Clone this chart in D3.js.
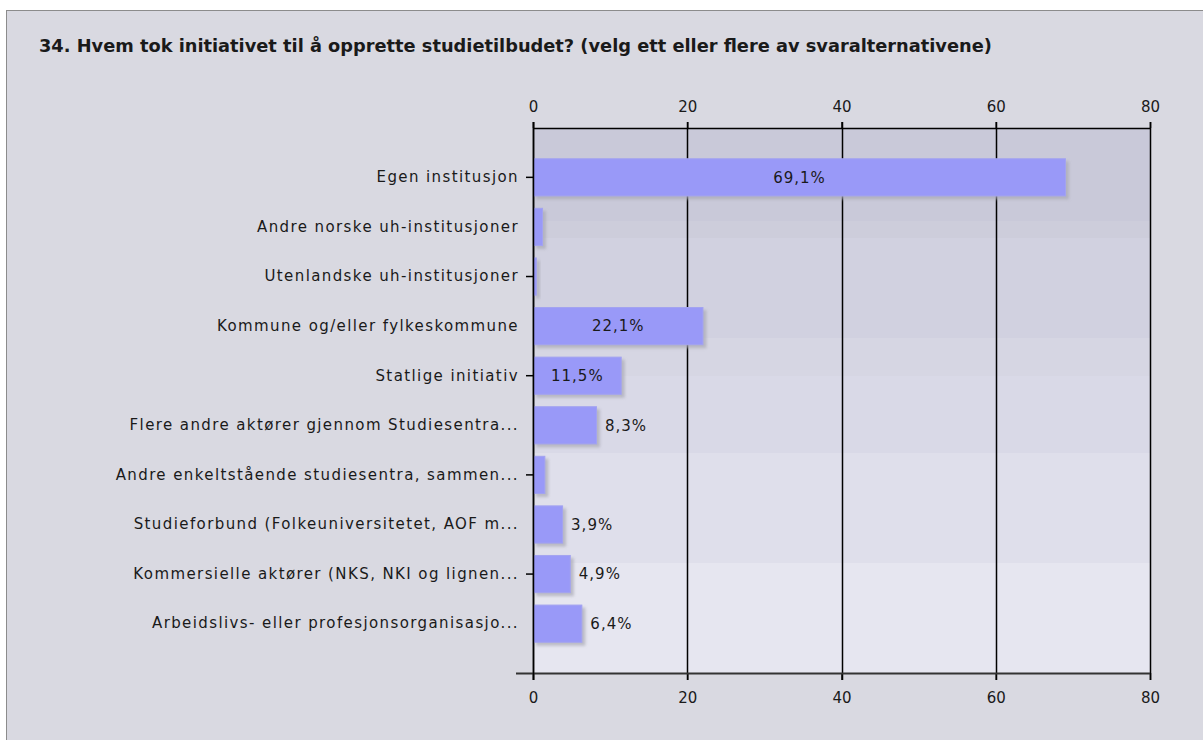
<!DOCTYPE html>
<html>
<head>
<meta charset="utf-8">
<script src="https://cdn.jsdelivr.net/npm/d3@7"></script>
<style>
  body { margin: 0; background: #fff; }
  svg text { font-family: "DejaVu Sans", Verdana, sans-serif; fill: #1a1a1a; }
</style>
</head>
<body>
<svg id="chart" width="1203" height="740"></svg>
<script>
var title = '34. Hvem tok initiativet til å opprette studietilbudet? (velg ett eller flere av svaralternativene)';

var categories = [
  'Egen institusjon',
  'Andre norske uh-institusjoner',
  'Utenlandske uh-institusjoner',
  'Kommune og/eller fylkeskommune',
  'Statlige initiativ',
  'Flere andre aktører gjennom Studiesentra...',
  'Andre enkeltstående studiesentra, sammen...',
  'Studieforbund (Folkeuniversitetet, AOF m...',
  'Kommersielle aktører (NKS, NKI og lignen...',
  'Arbeidslivs- eller profesjonsorganisasjo...'
];
var values = [69.1, 1.3, 0.5, 22.1, 11.5, 8.3, 1.6, 3.9, 4.9, 6.4];
var valueLabels = ['69,1%', '', '', '22,1%', '11,5%', '8,3%', '', '3,9%', '4,9%', '6,4%'];
var xTicks = [0, 20, 40, 60, 80];

var svg = d3.select('#chart'),
  margin = {top: 128, right: 53, bottom: 67, left: 533},
  width = +svg.attr('width') - margin.left - margin.right,
  height = +svg.attr('height') - margin.top - margin.bottom;

// panel
svg.append('rect')
  .attr('x', 6.5).attr('y', 10.5)
  .attr('width', 1210).attr('height', 740)
  .attr('fill', '#d9d9e1')
  .attr('stroke', '#8c8c8c');

svg.append('text')
  .attr('x', 39).attr('y', 52)
  .style('font-weight', 'bold')
  .style('font-size', '17.8px')
  .text(title);

var defs = svg.append('defs');
var blur = defs.append('filter').attr('id', 'shadow')
  .attr('x', '-20%').attr('y', '-20%').attr('width', '140%').attr('height', '140%');
blur.append('feGaussianBlur').attr('stdDeviation', 1.4);

var g = svg.append('g').attr('transform', 'translate(' + margin.left + ',' + margin.top + ')');

var x = d3.scaleLinear().domain([0, 80]).range([0, width]);
var y = d3.scaleBand().domain(categories).range([0, height])
  .paddingInner(0.23).paddingOuter(0.61);

// background steps (dark at top, light at bottom)
var steps = [
  [0, 0.171, '#c9c9d9'],
  [0.171, 0.202, '#cdcddb'],
  [0.202, 0.385, '#d1d1e0'],
  [0.385, 0.455, '#d6d6e3'],
  [0.455, 0.596, '#d9d9e7'],
  [0.596, 0.798, '#dfdfeb'],
  [0.798, 1, '#e6e6f0']
];
g.selectAll('rect.bg')
  .data(steps)
  .enter().append('rect')
  .attr('class', 'bg')
  .attr('x', 0)
  .attr('y', function(d) { return Math.round(d[0] * height); })
  .attr('width', width)
  .attr('height', function(d) { return Math.round(d[1] * height) - Math.round(d[0] * height); })
  .attr('fill', function(d) { return d[2]; });

// grid lines
g.selectAll('line.grid')
  .data(xTicks)
  .enter().append('line')
  .attr('class', 'grid')
  .attr('x1', function(d) { return Math.round(x(d)) + 0.5; })
  .attr('x2', function(d) { return Math.round(x(d)) + 0.5; })
  .attr('y1', -6).attr('y2', height + 7)
  .attr('stroke', '#000')
  .attr('stroke-width', 1.5);

// shadows + bars
g.selectAll('rect.shadow')
  .data(values)
  .enter().append('rect')
  .attr('class', 'shadow')
  .attr('x', 3)
  .attr('y', function(d, i) { return y(categories[i]) + 3; })
  .attr('width', function(d) { return x(d); })
  .attr('height', y.bandwidth())
  .attr('fill', '#a9a9b4')
  .attr('opacity', 0.7)
  .attr('filter', 'url(#shadow)');

g.selectAll('rect.bar')
  .data(values)
  .enter().append('rect')
  .attr('class', 'bar')
  .attr('x', 0.5)
  .attr('y', function(d, i) { return y(categories[i]) + 0.5; })
  .attr('width', function(d) { return Math.max(x(d) - 1, 1); })
  .attr('height', y.bandwidth() - 1)
  .attr('fill', '#9999f8')
  .attr('stroke', '#a3a3f0')
  .attr('stroke-width', 1);

g.selectAll('text.val')
  .data(values)
  .enter().append('text')
  .attr('class', 'val')
  .attr('x', function(d) { return d >= 10 ? x(d) / 2 : x(d) + 8; })
  .attr('y', function(d, i) { return y(categories[i]) + y.bandwidth() / 2; })
  .attr('dy', '0.35em')
  .attr('text-anchor', function(d) { return d >= 10 ? 'middle' : 'start'; })
  .style('font-size', '15px')
  .style('letter-spacing', '1px')
  .text(function(d, i) { return valueLabels[i]; });

// axes
var axTop = g.append('g')
  .call(d3.axisTop(x).tickValues(xTicks).tickSize(6).tickSizeOuter(0).tickPadding(10));
var axBottom = g.append('g')
  .attr('transform', 'translate(0,' + height + ')')
  .call(d3.axisBottom(x).tickValues(xTicks).tickSize(7).tickSizeOuter(0).tickPadding(12));
[axTop, axBottom].forEach(function(a) {
  a.select('.domain').remove();
  a.selectAll('text').style('font-size', '15px').attr('fill', '#1a1a1a')
    .style('font-family', '"DejaVu Sans", Verdana, sans-serif');
  a.selectAll('line').attr('stroke', '#000').attr('stroke-width', 1.5);
});

var axLeft = g.append('g')
  .call(d3.axisLeft(y).tickSize(7).tickSizeOuter(0).tickPadding(7));
axLeft.select('.domain').remove();
axLeft.selectAll('text').style('font-size', '15px').attr('fill', '#1a1a1a')
  .style('letter-spacing', '1.4px')
  .style('font-family', '"DejaVu Sans", Verdana, sans-serif');
axLeft.selectAll('.tick line')
  .attr('stroke', '#000')
  .attr('stroke-width', 1.5)
  .attr('opacity', function(d, i) { return i % 2 === 0 ? 1 : 0; });

// frame lines
g.append('line')
  .attr('x1', 0).attr('x2', width).attr('y1', 0.5).attr('y2', 0.5)
  .attr('stroke', '#000').attr('stroke-width', 1.5);
g.append('line')
  .attr('x1', -17).attr('x2', width).attr('y1', height + 0.5).attr('y2', height + 0.5)
  .attr('stroke', '#333').attr('stroke-width', 2);
g.append('line')
  .attr('x1', 0.5).attr('x2', 0.5).attr('y1', -6).attr('y2', height + 7)
  .attr('stroke', '#000').attr('stroke-width', 1.5);
</script>
</body>
</html>
